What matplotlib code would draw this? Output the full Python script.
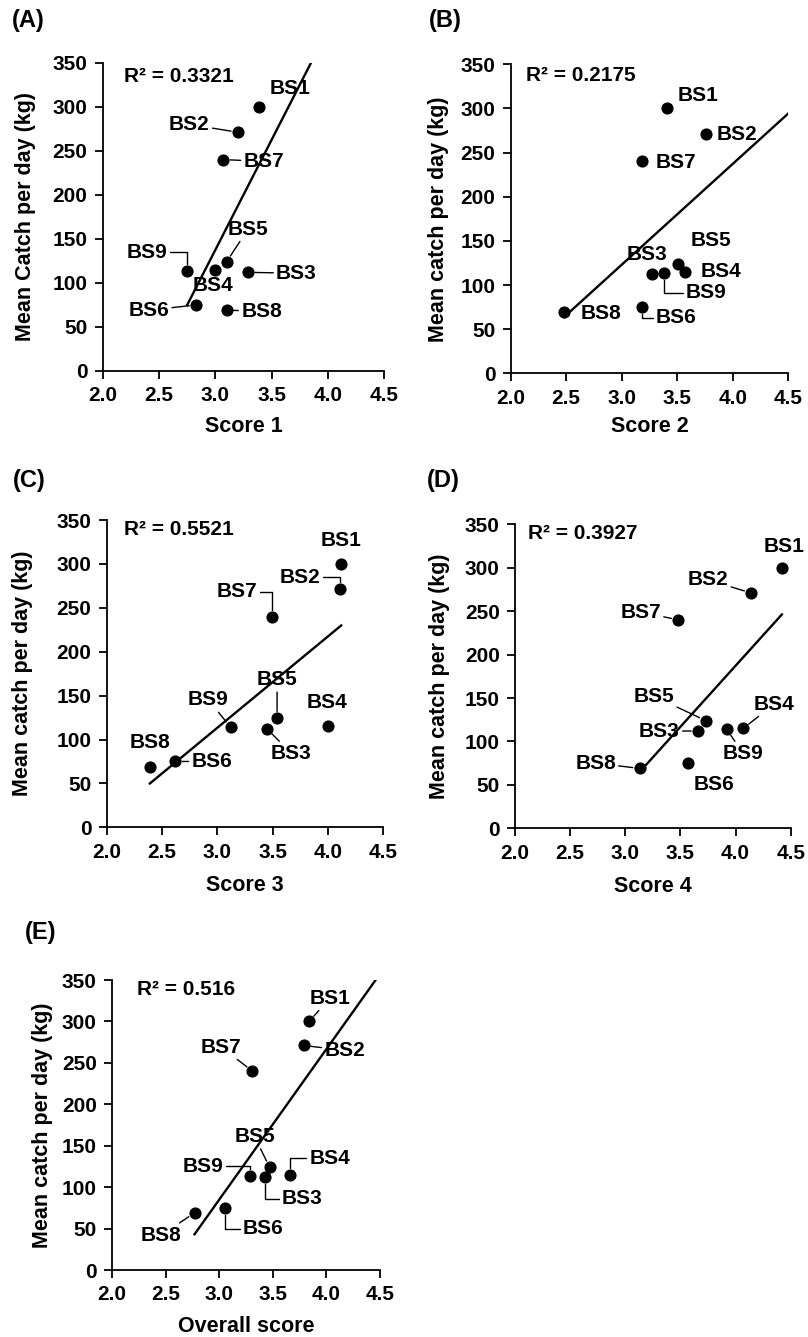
import matplotlib
matplotlib.use('Agg')
import matplotlib.pyplot as plt
import numpy as np

plt.rcParams['font.family'] = ['Liberation Sans', 'DejaVu Sans']
plt.rcParams['font.weight'] = 'bold'

# data
sites = ['BS1', 'BS2', 'BS3', 'BS4', 'BS5', 'BS6', 'BS7', 'BS8', 'BS9']
catch = np.array([300, 271, 112, 115, 124, 75, 240, 69, 114])
score1 = np.array([3.39, 3.20, 3.29, 3.00, 3.10, 2.83, 3.07, 3.10, 2.75])
score2 = np.array([3.41, 3.76, 3.27, 3.57, 3.51, 3.18, 3.18, 2.48, 3.38])
score3 = np.array([4.12, 4.11, 3.45, 4.00, 3.54, 2.62, 3.49, 2.39, 3.12])
score4 = np.array([4.42, 4.14, 3.66, 4.07, 3.73, 3.57, 3.48, 3.13, 3.92])
overall = np.array([3.84, 3.79, 3.43, 3.66, 3.47, 3.05, 3.31, 2.77, 3.29])

panel_tags = ['(A)', '(B)', '(C)', '(D)', '(E)']
xlabels = ['Score 1', 'Score 2', 'Score 3', 'Score 4', 'Overall score']
ylabels = ['Mean Catch per day (kg)'] + ['Mean catch per day (kg)'] * 4
r2_text = ['0.3321', '0.2175', '0.5521', '0.3927', '0.516']
scores = [score1, score2, score3, score4, overall]
trend_to_edge = [True, True, False, False, True]

# layout (pixels of 808x1337 figure): axes left, right, top, bottom
W, H = 808, 1337
boxes = [(102.7, 384.3, 62.7, 371), (510.7, 788.3, 64.3, 373.3),
         (106.7, 383.3, 520, 827.3), (515, 790.7, 524.3, 828.3),
         (112, 380, 980, 1270)]
tag_pos = [(12, 21), (429, 21), (13, 481), (427, 480), (25, 933)]
ylab_off = [-76.7, -72, -83.7, -76, -69.5]
xlab_off = [56, 53, 58, 58, 57]
r2_pos = [(0.076, 0.955), (0.054, 0.963), (0.0625, 0.970), (0.047, 0.970), (0.094, 0.966)]

EL = 'angle,angleA=0,angleB=90,rad=0'
# label placement: site -> (text x, text y, leader)
labels = [
    {'BS1': (3.66, 321, None), 'BS2': (2.77, 280, 'line'), 'BS7': (3.43, 238, 'line'),
     'BS5': (3.29, 161, 'line'), 'BS9': (2.39, 135, EL), 'BS3': (3.72, 111, 'line'),
     'BS4': (2.98, 97, None), 'BS6': (2.41, 69, 'line'), 'BS8': (3.41, 68, 'line')},
    {'BS1': (3.69, 315, None), 'BS2': (4.04, 270, None), 'BS7': (3.49, 239, None),
     'BS5': (3.80, 150, None), 'BS3': (3.23, 135, None), 'BS4': (3.89, 115, None),
     'BS9': (3.76, 91, EL), 'BS8': (2.81, 68, None), 'BS6': (3.49, 63, EL)},
    {'BS1': (4.12, 327, None), 'BS2': (3.75, 285, EL), 'BS7': (3.18, 268, EL),
     'BS5': (3.54, 168, 'line'), 'BS9': (2.92, 145, 'line'), 'BS4': (3.99, 142, None),
     'BS3': (3.67, 84, 'line'), 'BS8': (2.39, 97, None), 'BS6': (2.95, 75, 'line')},
    {'BS1': (4.44, 324, None), 'BS2': (3.75, 286, 'line'), 'BS7': (3.14, 249, 'line'),
     'BS5': (3.26, 152, 'line'), 'BS4': (4.35, 143, 'line'), 'BS3': (3.31, 112, 'line'),
     'BS9': (4.07, 86, 'line'), 'BS8': (2.73, 75, 'line'), 'BS6': (3.80, 51, None)},
    {'BS1': (4.03, 328, 'line'), 'BS2': (4.17, 265, 'line'), 'BS7': (3.02, 269, 'line'),
     'BS5': (3.33, 161, 'line'), 'BS9': (2.85, 125, EL), 'BS4': (4.03, 135, EL),
     'BS3': (3.77, 86, EL), 'BS6': (3.41, 50, EL), 'BS8': (2.46, 42, 'line')},
]

fs = 15
fig = plt.figure(figsize=(W / 100, H / 100), dpi=100)

for i in range(5):
    l, r, t, b = boxes[i]
    ax = fig.add_axes([l / W, (H - b) / H, (r - l) / W, (b - t) / H])
    x = scores[i]
    ax.scatter(x, catch, s=60, color='k', zorder=3, clip_on=False)

    z = np.polyfit(x, catch, 1)
    p = np.poly1d(z)
    xend = 4.5 if trend_to_edge[i] else x.max()
    xt = np.linspace(x.min(), xend, 50)
    ax.plot(xt, p(xt), 'k-', lw=1.7)

    for j, s in enumerate(sites):
        tx, ty, lead = labels[i][s]
        if lead is None:
            ax.text(tx, ty, s, ha='center', va='center', fontsize=fs,
                    fontweight='bold', clip_on=False)
        else:
            ax.annotate(s, xy=(x[j], catch[j]), xytext=(tx, ty), ha='center',
                        va='center', fontsize=fs, fontweight='bold',
                        annotation_clip=False,
                        arrowprops=dict(arrowstyle='-', color='k', lw=1,
                                        shrinkA=0, shrinkB=5,
                                        connectionstyle='arc3' if lead == 'line' else lead))

    ax.text(r2_pos[i][0], r2_pos[i][1], 'R² = ' + r2_text[i], transform=ax.transAxes,
            ha='left', va='center', fontsize=fs, fontweight='bold')

    ax.set_xlim(2.0, 4.5)
    ax.set_ylim(0, 350)
    ax.set_xticks(np.arange(2.0, 4.51, 0.5))
    ax.set_xticklabels(['%.1f' % v for v in np.arange(2.0, 4.51, 0.5)])
    ax.set_yticks(np.arange(0, 351, 50))
    ax.spines['top'].set_visible(False)
    ax.spines['right'].set_visible(False)
    for sp in ['left', 'bottom']:
        ax.spines[sp].set_linewidth(1.3)
    ax.tick_params(direction='out', length=6, width=1.3, labelsize=fs, pad=5)
    for lab in ax.get_xticklabels() + ax.get_yticklabels():
        lab.set_fontweight('bold')

    ax.set_xlabel(xlabels[i], fontsize=15.5, fontweight='bold')
    ax.xaxis.set_label_coords(0.5, -xlab_off[i] / (b - t))
    ax.xaxis.label.set_va('center')
    ax.set_ylabel(ylabels[i], fontsize=15.5, fontweight='bold')
    ax.yaxis.set_label_coords(ylab_off[i] / (r - l), 0.5)
    ax.yaxis.label.set_va('center')

    fig.text(tag_pos[i][0] / W, 1 - tag_pos[i][1] / H, panel_tags[i], ha='left',
             va='center', fontsize=17, fontweight='bold')

fig.savefig('out.png', dpi=100)
